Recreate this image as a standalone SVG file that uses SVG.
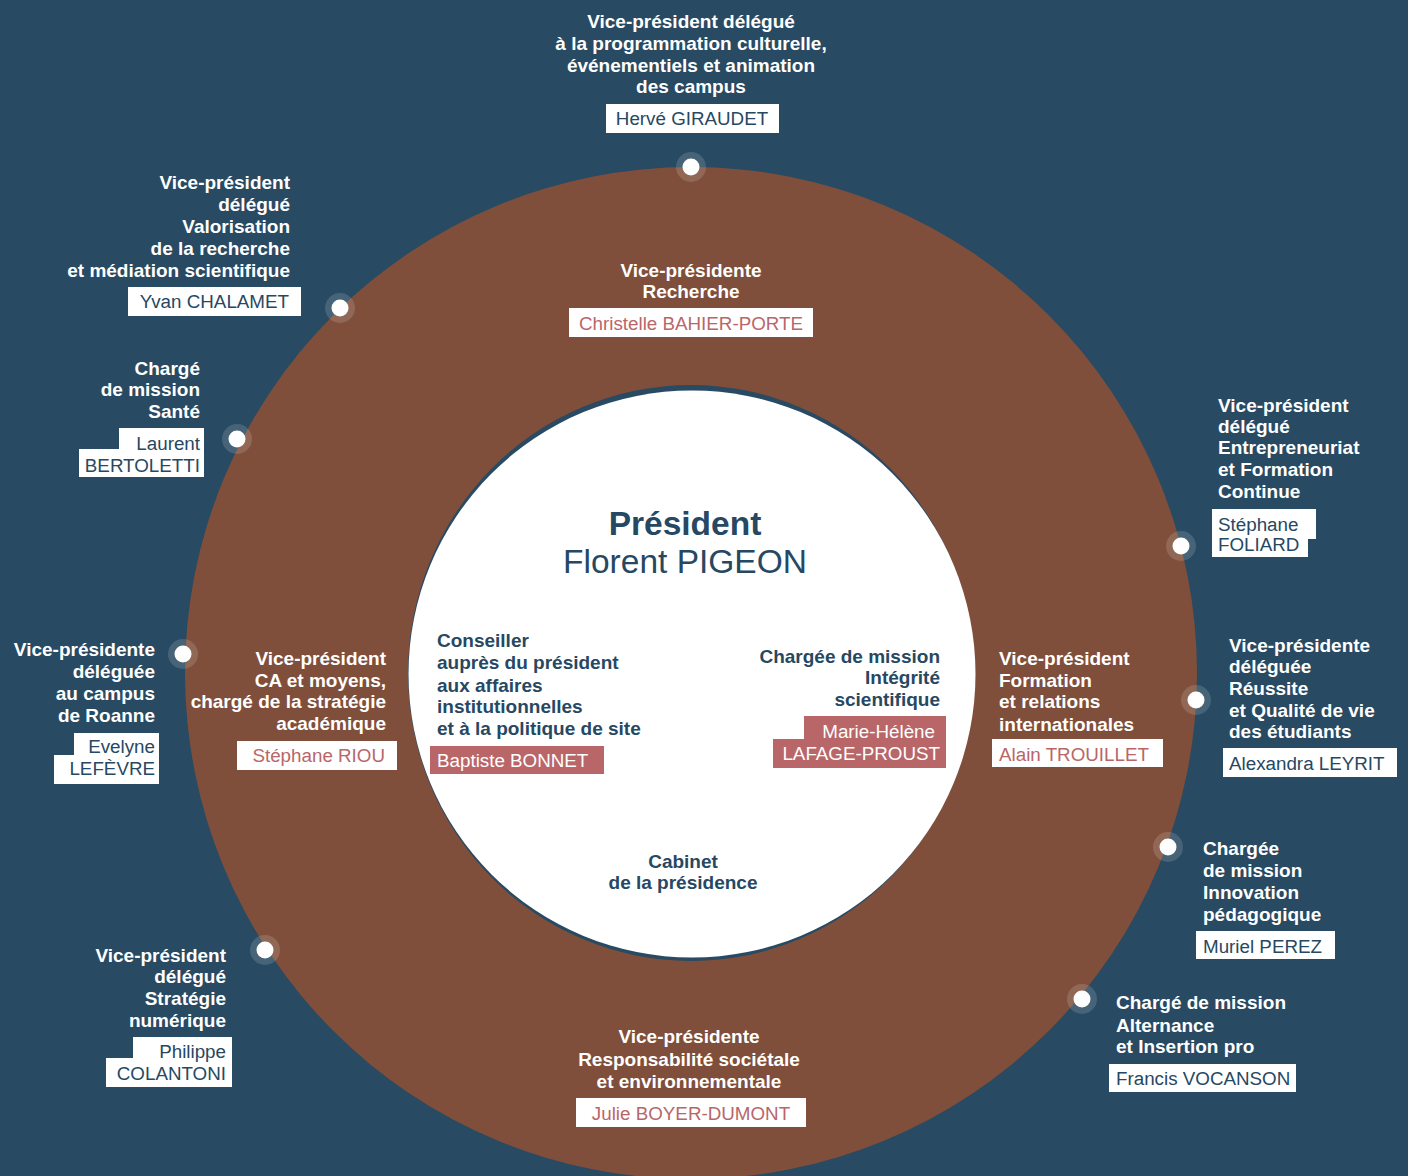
<svg xmlns="http://www.w3.org/2000/svg" xmlns:xlink="http://www.w3.org/1999/xlink" width="1408" height="1176" viewBox="0 0 1408 1176">
<defs>
<style>
text{font-family:"Liberation Sans",Arial,sans-serif;}
.t{font-weight:bold;font-size:19px;fill:#ffffff;}
.td{font-weight:bold;font-size:19px;fill:#274862;}
.n{font-size:18.8px;fill:#274862;}
.nr{font-size:18.8px;fill:#b96669;}
.nw{font-size:18.8px;fill:#ffffff;}
.box{fill:#ffffff;}
.boxr{fill:#b96669;}
.e{text-anchor:end;}
.m{text-anchor:middle;}
</style>
<g id="dot">
<circle r="15" fill="#ffffff" fill-opacity="0.14"/>
<circle r="8.5" fill="#ffffff"/>
</g>
</defs>
<rect x="0" y="0" width="1408" height="1176" fill="#284a62"/>
<g id="ring">
<circle cx="691" cy="673" r="506" fill="#7f4f3b"/>
<ellipse cx="691" cy="673" rx="283" ry="288" fill="#284a62"/>
<circle cx="692" cy="674" r="283.5" fill="#ffffff"/>
</g>
<g id="connectors">
<use xlink:href="#dot" x="691" y="167"/>
<use xlink:href="#dot" x="340" y="308"/>
<use xlink:href="#dot" x="237" y="439"/>
<use xlink:href="#dot" x="183" y="654"/>
<use xlink:href="#dot" x="265" y="950"/>
<use xlink:href="#dot" x="1181" y="546"/>
<use xlink:href="#dot" x="1196" y="700"/>
<use xlink:href="#dot" x="1168" y="847"/>
<use xlink:href="#dot" x="1082" y="999"/>
</g>
<g id="president">
<text class="m" x="685" y="535" style="font-weight:bold;font-size:33.5px;fill:#274862">Président</text>
<text class="m" x="685" y="573" style="font-size:33.5px;fill:#274862">Florent PIGEON</text>
</g>
<g id="node-giraudet">
<text class="t m"><tspan x="691" y="28">Vice-président délégué</tspan><tspan x="691" y="50">à la programmation culturelle,</tspan><tspan x="691" y="72">événementiels et animation</tspan><tspan x="691" y="93">des campus</tspan></text>
<rect class="box" x="606" y="104" width="173" height="29"/>
<text class="n m" x="692" y="125">Hervé GIRAUDET</text>
</g>
<g id="node-bahier-porte">
<text class="t m"><tspan x="691" y="277">Vice-présidente</tspan><tspan x="691" y="298">Recherche</tspan></text>
<rect class="box" x="569" y="308" width="244" height="29"/>
<text class="nr m" x="691" y="330">Christelle BAHIER-PORTE</text>
</g>
<g id="node-chalamet">
<text class="t e"><tspan x="290" y="189">Vice-président</tspan><tspan x="290" y="211">délégué</tspan><tspan x="290" y="233">Valorisation</tspan><tspan x="290" y="255">de la recherche</tspan><tspan x="290" y="277">et médiation scientifique</tspan></text>
<rect class="box" x="128" y="287" width="173" height="29"/>
<text class="n e" x="289" y="308">Yvan CHALAMET</text>
</g>
<g id="node-bertoletti">
<text class="t e"><tspan x="200" y="375">Chargé</tspan><tspan x="200" y="396">de mission</tspan><tspan x="200" y="418">Santé</tspan></text>
<rect class="box" x="119" y="428" width="85" height="22"/>
<rect class="box" x="79" y="449" width="125" height="28"/>
<text class="n e"><tspan x="200" y="450">Laurent</tspan><tspan x="200" y="472">BERTOLETTI</tspan></text>
</g>
<g id="node-lefevre">
<text class="t e"><tspan x="155" y="656">Vice-présidente</tspan><tspan x="155" y="678">déléguée</tspan><tspan x="155" y="700">au campus</tspan><tspan x="155" y="722">de Roanne</tspan></text>
<rect class="box" x="74" y="733" width="85" height="23"/>
<rect class="box" x="54" y="755" width="105" height="29"/>
<text class="n e"><tspan x="155" y="753">Evelyne</tspan><tspan x="155" y="775">LEFÈVRE</tspan></text>
</g>
<g id="node-riou">
<text class="t e"><tspan x="386" y="665">Vice-président</tspan><tspan x="386" y="687">CA et moyens,</tspan><tspan x="386" y="708">chargé de la stratégie</tspan><tspan x="386" y="730">académique</tspan></text>
<rect class="box" x="237" y="741" width="160" height="29"/>
<text class="nr e" x="385" y="762">Stéphane RIOU</text>
</g>
<g id="node-bonnet">
<text class="td"><tspan x="437" y="647">Conseiller</tspan><tspan x="437" y="669">auprès du président</tspan><tspan x="437" y="692">aux affaires</tspan><tspan x="437" y="713">institutionnelles</tspan><tspan x="437" y="735">et à la politique de site</tspan></text>
<rect class="boxr" x="430" y="746" width="174" height="28"/>
<text class="nw" x="437" y="767">Baptiste BONNET</text>
</g>
<g id="node-lafage-proust">
<text class="td e"><tspan x="940" y="663">Chargée de mission</tspan><tspan x="940" y="684">Intégrité</tspan><tspan x="940" y="706">scientifique</tspan></text>
<rect class="boxr" x="804" y="716" width="142" height="24"/>
<rect class="boxr" x="773" y="739" width="173" height="29"/>
<text class="nw e"><tspan x="935" y="738">Marie-Hélène</tspan><tspan x="940" y="760">LAFAGE-PROUST</tspan></text>
</g>
<g id="node-cabinet">
<text class="td m"><tspan x="683" y="868">Cabinet</tspan><tspan x="683" y="889">de la présidence</tspan></text>
</g>
<g id="node-foliard">
<text class="t"><tspan x="1218" y="412">Vice-président</tspan><tspan x="1218" y="433">délégué</tspan><tspan x="1218" y="454">Entrepreneuriat</tspan><tspan x="1218" y="476">et Formation</tspan><tspan x="1218" y="498">Continue</tspan></text>
<rect class="box" x="1212" y="509" width="104" height="30"/>
<rect class="box" x="1212" y="538" width="96" height="19"/>
<text class="n"><tspan x="1218" y="531">Stéphane</tspan><tspan x="1218" y="551">FOLIARD</tspan></text>
</g>
<g id="node-trouillet">
<text class="t"><tspan x="999" y="665">Vice-président</tspan><tspan x="999" y="687">Formation</tspan><tspan x="999" y="708">et relations</tspan><tspan x="999" y="731">internationales</tspan></text>
<rect class="box" x="992" y="739" width="171" height="28"/>
<text class="nr" x="999" y="761">Alain TROUILLET</text>
</g>
<g id="node-leyrit">
<text class="t"><tspan x="1229" y="652">Vice-présidente</tspan><tspan x="1229" y="673">déléguée</tspan><tspan x="1229" y="695">Réussite</tspan><tspan x="1229" y="717">et Qualité de vie</tspan><tspan x="1229" y="738">des étudiants</tspan></text>
<rect class="box" x="1223" y="748" width="174" height="29"/>
<text class="n" x="1229" y="770">Alexandra LEYRIT</text>
</g>
<g id="node-perez">
<text class="t"><tspan x="1203" y="855">Chargée</tspan><tspan x="1203" y="877">de mission</tspan><tspan x="1203" y="899">Innovation</tspan><tspan x="1203" y="921">pédagogique</tspan></text>
<rect class="box" x="1196" y="931" width="139" height="28"/>
<text class="n" x="1203" y="953">Muriel PEREZ</text>
</g>
<g id="node-vocanson">
<text class="t"><tspan x="1116" y="1009">Chargé de mission</tspan><tspan x="1116" y="1032">Alternance</tspan><tspan x="1116" y="1053">et Insertion pro</tspan></text>
<rect class="box" x="1109" y="1064" width="187" height="28"/>
<text class="n" x="1116" y="1085">Francis VOCANSON</text>
</g>
<g id="node-colantoni">
<text class="t e"><tspan x="226" y="962">Vice-président</tspan><tspan x="226" y="983">délégué</tspan><tspan x="226" y="1005">Stratégie</tspan><tspan x="226" y="1027">numérique</tspan></text>
<rect class="box" x="133" y="1037" width="99" height="22"/>
<rect class="box" x="106" y="1058" width="126" height="29"/>
<text class="n e"><tspan x="226" y="1058">Philippe</tspan><tspan x="226" y="1080">COLANTONI</tspan></text>
</g>
<g id="node-boyer-dumont">
<text class="t m"><tspan x="689" y="1043">Vice-présidente</tspan><tspan x="689" y="1066">Responsabilité sociétale</tspan><tspan x="689" y="1088">et environnementale</tspan></text>
<rect class="box" x="576" y="1098" width="230" height="29"/>
<text class="nr m" x="691" y="1120">Julie BOYER-DUMONT</text>
</g>
</svg>
